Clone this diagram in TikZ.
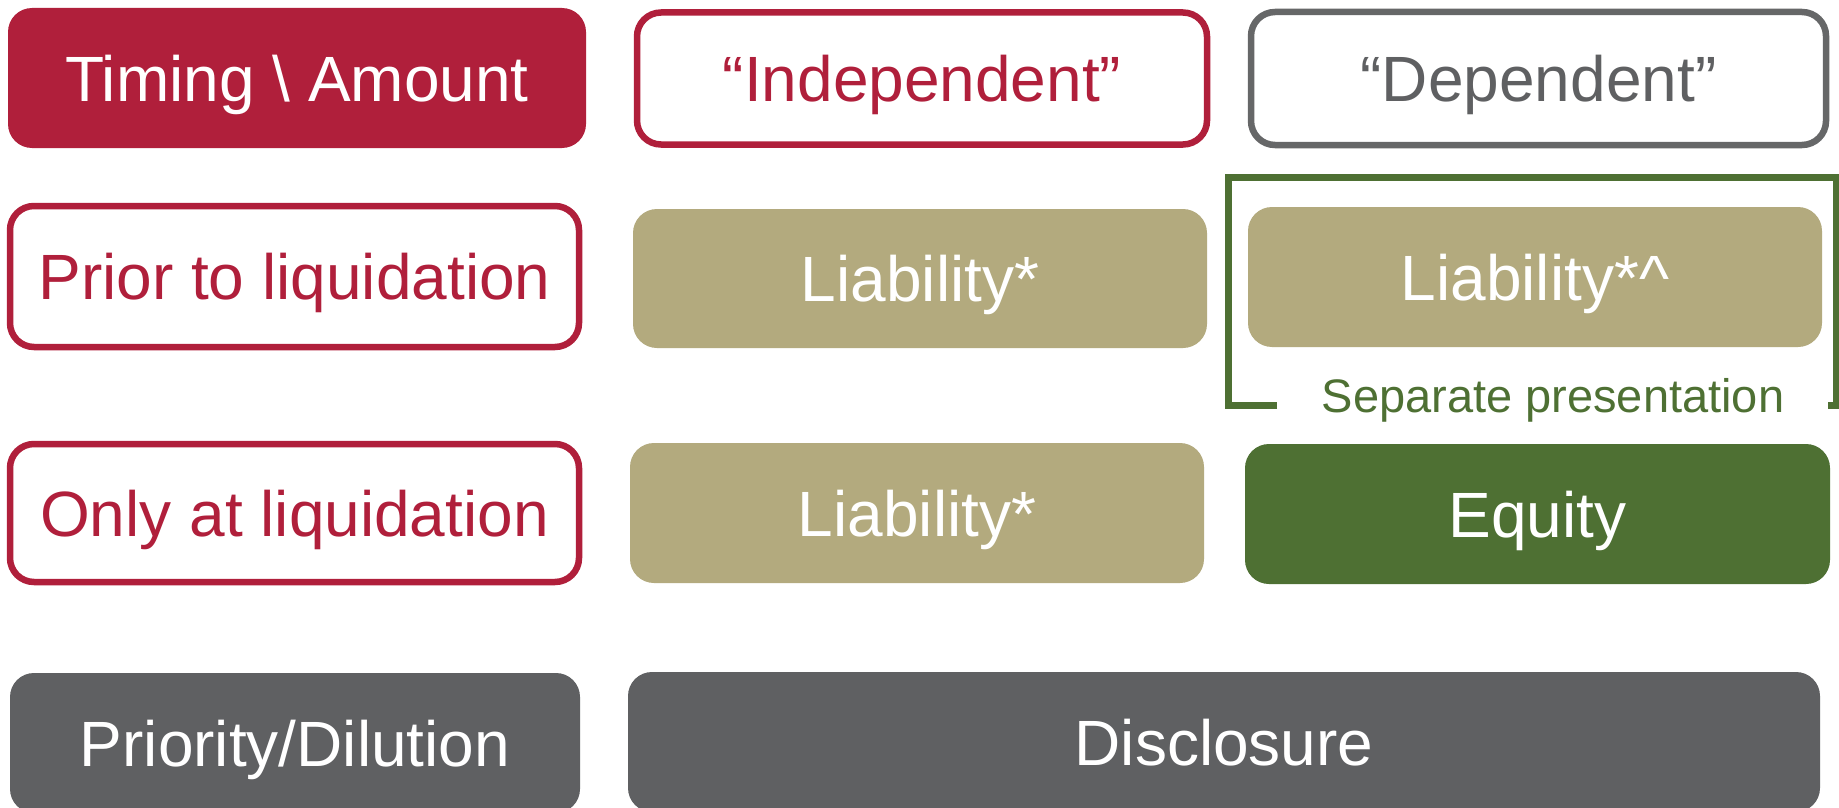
\documentclass[tikz,border=0pt]{standalone}
\usepackage{fontspec}
\setmainfont{Liberation Sans}
\begin{document}
\definecolor{crimson}{HTML}{B01F3B}
\definecolor{khaki}{HTML}{B3AA7E}
\definecolor{leaf}{HTML}{4E7033}
\definecolor{slate}{HTML}{5F6062}
\definecolor{frame}{HTML}{666768}
\begin{tikzpicture}[x=1pt,y=-1pt,
  cell/.style={rounded corners=24pt, inner sep=0pt, outer sep=0pt,
    font=\fontsize{64}{70}\selectfont, text height=46pt, text depth=0pt, align=center},
  solidcell/.style={cell, fill=#1, text=white},
  linecell/.style={cell, draw=#1, line width=6.5pt, text=#1, fill=white},
  note/.style={font=\fontsize{47}{52}\selectfont, text=leaf, inner sep=0pt, anchor=base}
]
\clip (0,0) rectangle (1839,808);
\fill[white] (0,0) rectangle (1839,808);

% header row
\node[solidcell=crimson, minimum width=578pt, minimum height=140pt] (head) at (297,78) {Timing \textbackslash{} Amount};
\node[linecell=crimson, minimum width=570pt, minimum height=132pt] (indep) at (922,78.5) {“Independent”};
\node[linecell=frame, minimum width=575pt, minimum height=133pt] (dep) at (1538.5,78.5) {\textcolor{slate}{“Dependent”}};

% bracket grouping the dependent liability
\coordinate (bl) at (1277,405);
\coordinate (br) at (1828,405);
\draw[leaf, line width=7pt, line join=miter]
  (bl) -- (1228.5,405) -- (1228.5,177.5) -- (1836,177.5) -- (1836,405) -- (br);
\node[note] (sep) at (1553,412) {Separate presentation};

% second row
\node[linecell=crimson, minimum width=569pt, minimum height=141pt] (prior) at (294.5,276.5) {Prior to liquidation};
\node[solidcell=khaki, minimum width=574pt, minimum height=139pt] (liabA) at (920,278.5) {Liability*};
\node[solidcell=khaki, minimum width=574pt, minimum height=140pt] (liabB) at (1535,277) {Liability*\textasciicircum};

% third row
\node[linecell=crimson, minimum width=569pt, minimum height=138pt] (only) at (294.5,513) {Only at liquidation};
\node[solidcell=khaki, minimum width=574pt, minimum height=140pt] (liabC) at (917,513) {Liability*};
\node[solidcell=leaf, minimum width=585pt, minimum height=140pt] (equity) at (1537.5,514) {Equity};

% bottom row
\node[solidcell=slate, minimum width=570pt, minimum height=140pt] (prio) at (295,743) {Priority/Dilution};
\node[solidcell=slate, minimum width=1192pt, minimum height=140pt] (discl) at (1224,742) {Disclosure};
\end{tikzpicture}
\end{document}
